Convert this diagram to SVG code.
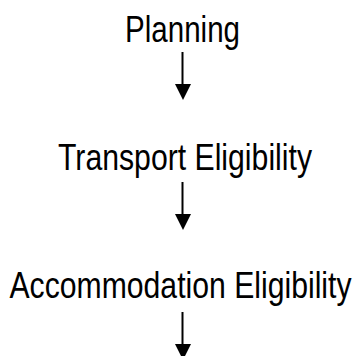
<svg xmlns="http://www.w3.org/2000/svg" width="359" height="356" viewBox="0 0 359 356">
<defs>
<style>
.lbl{font-family:"Liberation Sans Narrow","Liberation Sans",Arial,sans-serif;font-size:36px;fill:#000;text-anchor:middle}
.con{stroke:#000;stroke-width:2;fill:none}
.head{fill:#000}
</style>
</defs>
<rect width="359" height="356" fill="#fff"/>
<g id="node-planning"><text class="lbl" x="182.5" y="42" textLength="115" lengthAdjust="spacingAndGlyphs">Planning</text></g>
<g id="node-transport"><text class="lbl" x="185" y="170" textLength="254" lengthAdjust="spacingAndGlyphs">Transport Eligibility</text></g>
<g id="node-accommodation"><text class="lbl" x="180.5" y="298" textLength="342" lengthAdjust="spacingAndGlyphs">Accommodation Eligibility</text></g>
<g id="connectors">
<line class="con" x1="182.5" y1="52" x2="182.5" y2="86"/>
<polygon class="head" points="175,84 191,84 183,100"/>
<line class="con" x1="182.5" y1="182" x2="182.5" y2="216"/>
<polygon class="head" points="175,214 191,214 183,230"/>
<line class="con" x1="182.5" y1="312" x2="182.5" y2="346"/>
<polygon class="head" points="175,344 191,344 183,360"/>
</g>
</svg>
